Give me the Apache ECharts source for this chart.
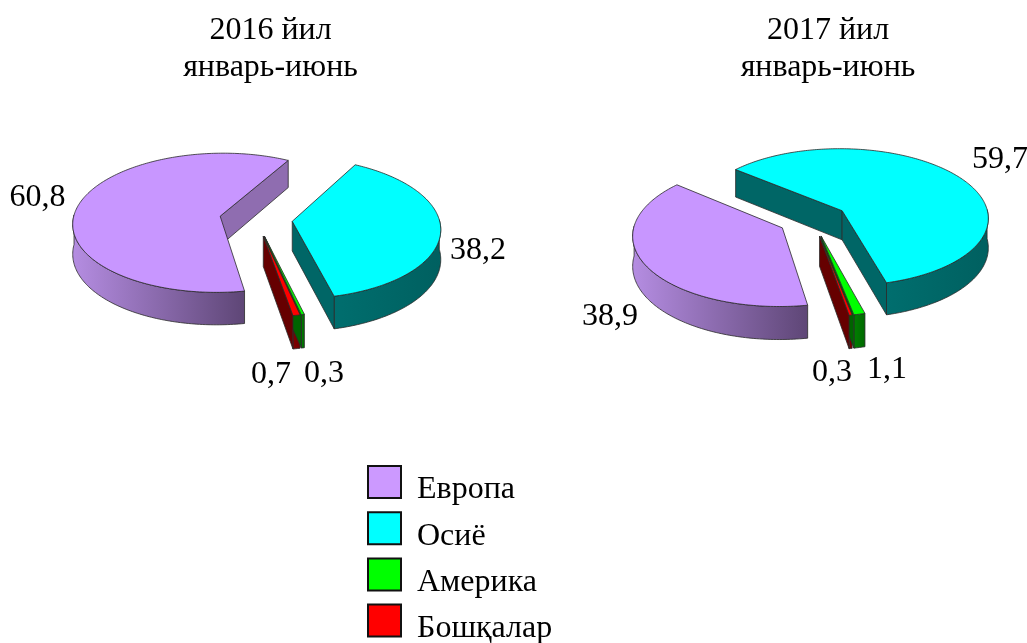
<!DOCTYPE html>
<html>
<head>
<meta charset="utf-8">
<style>
  html, body { margin: 0; padding: 0; background: #fff; }
  #chart { width: 1027px; height: 643px; }
</style>
<script src="https://cdn.jsdelivr.net/npm/echarts@6/dist/echarts.min.js"></script>
</head>
<body>
<div id="chart"></div>
<script>
// data
const periods = ['2016 йил\nянварь-июнь', '2017 йил\nянварь-июнь'];
const categories = ['Европа', 'Осиё', 'Америка', 'Бошқалар'];
const europe = [60.8, 38.9];
const asia = [38.2, 59.7];
const america = [0.3, 1.1];
const others = [0.7, 0.3];
const allValues = [europe, asia, america, others];

// layout of the two tilted pies
const pieCenters = [[256, 219], [813, 219.5]];
const startAngles = [80, 80];
const explode = [0.248, 0.238];
const RX = 147, RY = 69.5, DEPTH = 29.5, PERSPECTIVE = 0.095;
const FONT = '"Liberation Serif", "Times New Roman", serif';
const FONT_SIZE = 32;

// label centres, by category then pie
const labelSpots = [
  [[37.5, 198], [610, 317]],
  [[478, 251], [1000, 160]],
  [[324, 374], [887, 370]],
  [[271, 375], [832, 373]]
];

// colours by category
const topColors = ['#C896FF', '#00FFFF', '#00FF00', '#FF0000'];
const legendColors = ['#CC99FF', '#00FFFF', '#00FF00', '#FF0000'];
const radialWall = ['#8F6DB0', '#006666', '#006400', '#660000'];
const outerWall = [
  ['#B58DE2', '#5E4676'],
  ['#006E6E', '#006060'],
  ['#008000', '#006800'],
  ['#800000', '#700000']
];
const EDGE = '#2a2a2a';

function project(pie, u, v, drop) {
  const s = 1 / (1 - PERSPECTIVE * v);
  return [
    pieCenters[pie][0] + RX * u * s,
    pieCenters[pie][1] + RY * v * s + (drop ? DEPTH * s : 0)
  ];
}

function sliceAngles(cat, pie) {
  let total = 0, before = 0;
  allValues.forEach((vals, i) => {
    total += vals[pie];
    if (i < cat) before += vals[pie];
  });
  const from = startAngles[pie] + before / total * 360;
  return [from, from + allValues[cat][pie] / total * 360];
}

function polygon(points, fill, z) {
  return {
    type: 'polygon',
    z2: z,
    shape: { points: points },
    style: { fill: fill, stroke: EDGE, lineWidth: 0.8, lineJoin: 'round' }
  };
}

function makeRenderItem(cat) {
  return function (params, api) {
    const pie = api.value(0);
    const value = api.value(1);
    const [from, to] = sliceAngles(cat, pie);
    const mid = (from + to) / 2 * Math.PI / 180;
    const ox = explode[pie] * Math.cos(mid);
    const oy = explode[pie] * Math.sin(mid);
    const rim = (deg, drop) => {
      const a = deg * Math.PI / 180;
      return project(pie, ox + Math.cos(a), oy + Math.sin(a), drop);
    };
    const apexTop = project(pie, ox, oy, false);
    const apexLow = project(pie, ox, oy, true);

    // sample the rim in small steps
    const steps = [];
    const count = Math.max(2, Math.ceil(to - from));
    for (let i = 0; i <= count; i++) steps.push(from + (to - from) * i / count);

    const children = [];

    // outer wall, only the runs on the viewer's side
    let run = [];
    const flush = () => {
      if (run.length > 1) {
        const pts = run.map(d => rim(d, false)).concat(run.slice().reverse().map(d => rim(d, true)));
        children.push(polygon(pts, new echarts.graphic.LinearGradient(0, 0, 1, 0, [
          { offset: 0, color: outerWall[cat][0] },
          { offset: 1, color: outerWall[cat][1] }
        ]), 1));
      }
      run = [];
    };
    steps.forEach(d => {
      if (Math.sin(d * Math.PI / 180) > -0.03) run.push(d);
      else flush();
    });
    flush();

    // cut faces that look towards the viewer
    if (-Math.cos(from * Math.PI / 180) > 0) {
      children.push(polygon([apexTop, rim(from, false), rim(from, true), apexLow], radialWall[cat], 2));
    }
    if (Math.cos(to * Math.PI / 180) > 0) {
      children.push(polygon([apexTop, rim(to, false), rim(to, true), apexLow], radialWall[cat], 2));
    }

    // top face
    children.push(polygon([apexTop].concat(steps.map(d => rim(d, false))), topColors[cat], 3));

    children.push({
      type: 'text',
      z2: 5,
      style: {
        text: value.toFixed(1).replace('.', ','),
        x: labelSpots[cat][pie][0],
        y: labelSpots[cat][pie][1],
        align: 'center',
        verticalAlign: 'middle',
        font: FONT_SIZE + 'px ' + FONT,
        fill: '#000'
      }
    });

    return { type: 'group', children: children };
  };
}

const chart = echarts.init(document.getElementById('chart'), null, { renderer: 'canvas' });

chart.setOption({
  animation: false,
  backgroundColor: '#fff',
  title: periods.map((text, i) => ({
    text: text,
    left: [265.5, 823][i],
    top: 7,
    textAlign: 'center',
    textStyle: {
      fontFamily: FONT,
      fontSize: FONT_SIZE,
      fontWeight: 'normal',
      color: '#000',
      lineHeight: 37
    }
  })),
  legend: {
    orient: 'vertical',
    left: 362,
    top: 453,
    height: 190,
    icon: 'rect',
    itemWidth: 33,
    itemHeight: 32,
    itemGap: -1.8,
    selectedMode: false,
    data: categories,
    itemStyle: { borderColor: '#111', borderWidth: 2 },
    formatter: name => '{t|' + name + '}',
    textStyle: {
      rich: {
        t: {
          fontFamily: FONT,
          fontSize: FONT_SIZE,
          lineHeight: 32,
          color: '#000',
          padding: [16, 0, 0, 11]
        }
      }
    }
  },
  series: categories.map((name, cat) => ({
    type: 'custom',
    name: name,
    coordinateSystem: 'none',
    itemStyle: { color: legendColors[cat] },
    renderItem: makeRenderItem(cat),
    data: allValues[cat].map((v, pie) => [pie, v])
  }))
});
</script>
</body>
</html>
